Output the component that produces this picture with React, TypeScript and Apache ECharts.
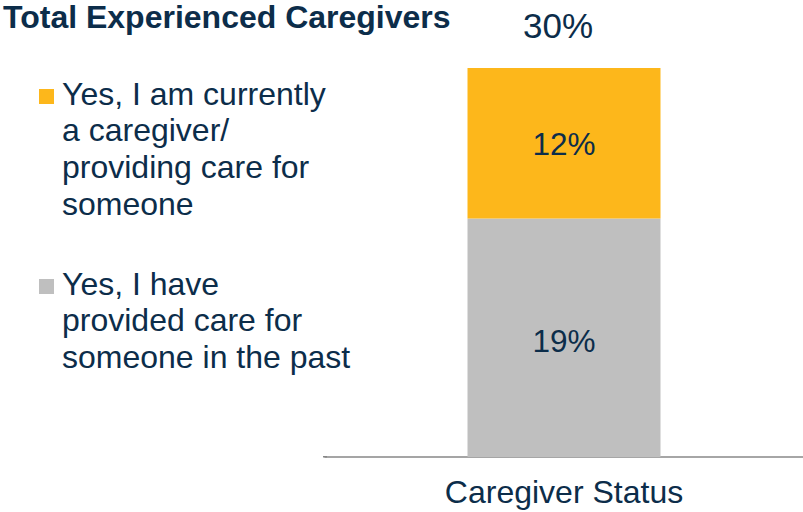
import React, { useEffect, useRef } from "react";
import * as echarts from "echarts";

const titleText = "Total Experienced Caregivers";
const categories = ["Caregiver Status"];
const pastName = "Yes, I have provided care for someone in the past";
const currentName = "Yes, I am currently a caregiver/ providing care for someone";
const pastValues = [19];
const currentValues = [12];
const totalValues = [30];
const pastLegendLines = ["Yes, I have", "provided care for", "someone in the past"];
const currentLegendLines = ["Yes, I am currently", "a caregiver/", "providing care for", "someone"];

const NAVY = "#0C2D4A";
const YELLOW = "#FDB71B";
const GRAY = "#BFBFBF";
const FONT = "'Liberation Sans', Arial, sans-serif";

export default function App() {
  const ref = useRef<HTMLDivElement>(null);
  useEffect(() => {
    if (!ref.current) return;
    const chart = echarts.init(ref.current, undefined, { renderer: "svg" });
    chart.setOption({
      animation: false,
      textStyle: { fontFamily: FONT },
      grid: { left: 325, right: -2, top: 68, bottom: 55, containLabel: false },
      xAxis: {
        type: "category",
        data: categories,
        axisLine: { show: true, lineStyle: { color: "#888888", width: 1.5 } },
        axisTick: { show: false },
        axisLabel: { color: NAVY, fontSize: 32, fontFamily: FONT, margin: 19, lineHeight: 32 },
      },
      yAxis: {
        type: "value",
        min: 0,
        max: 31,
        show: false,
        splitLine: { show: false },
      },
      series: [
        {
          name: pastName,
          type: "bar",
          stack: "total",
          barWidth: 193,
          data: pastValues,
          itemStyle: { color: GRAY },
          label: { show: true, position: "inside", formatter: "{c}%", color: NAVY, fontSize: 31.5, fontFamily: FONT, offset: [0, 3] },
        },
        {
          name: currentName,
          type: "bar",
          stack: "total",
          barWidth: 193,
          data: currentValues,
          itemStyle: { color: YELLOW },
          label: { show: true, position: "inside", formatter: "{c}%", color: NAVY, fontSize: 31.5, fontFamily: FONT, offset: [0, 1] },
        },
        {
          name: "Total",
          type: "bar",
          stack: "total",
          barWidth: 193,
          data: totalValues.map(() => 0),
          itemStyle: { color: "transparent" },
          label: {
            show: true,
            position: "top",
            distance: 25,
            formatter: () => totalValues[0] + "%",
            color: NAVY,
            fontSize: 35,
            lineHeight: 35,
            fontFamily: FONT,
            offset: [-6, 0],
          },
        },
      ],
      graphic: [
        {
          type: "rect",
          shape: { x: 323, y: 456, width: 4, height: 1.5 },
          style: { fill: "#888888" },
        },
        {
          type: "text",
          left: 3,
          top: 1,
          style: { text: titleText, fill: NAVY, font: `bold 32px ${FONT}`, lineHeight: 32 },
        },
        { type: "rect", shape: { x: 39, y: 89, width: 15, height: 15 }, style: { fill: YELLOW } },
        {
          type: "text",
          x: 62,
          y: 75.5,
          style: { text: currentLegendLines.join("\n"), fill: NAVY, font: `32px ${FONT}`, lineHeight: 36.6, verticalAlign: "top" },
        },
        { type: "rect", shape: { x: 39, y: 279, width: 15, height: 15 }, style: { fill: GRAY } },
        {
          type: "text",
          x: 62,
          y: 265.5,
          style: { text: pastLegendLines.join("\n"), fill: NAVY, font: `32px ${FONT}`, lineHeight: 36.6, verticalAlign: "top" },
        },
      ],
    });
    return () => chart.dispose();
  }, []);
  return <div ref={ref} style={{ width: 803, height: 512, position: "absolute", left: 0, top: 0 }} />;
}
